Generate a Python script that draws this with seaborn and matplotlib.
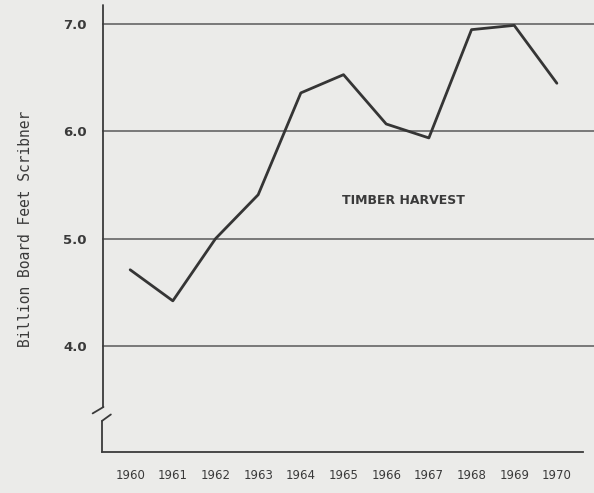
import matplotlib
matplotlib.use('Agg')
import matplotlib.pyplot as plt
import seaborn as sns
import pandas as pd

# Data (billion board feet, Scribner)
years = [1960, 1961, 1962, 1963, 1964, 1965, 1966, 1967, 1968, 1969, 1970]
harvest = [4.71, 4.42, 5.00, 5.41, 6.36, 6.53, 6.07, 5.94, 6.95, 6.99, 6.45]
y_ticks = [4.0, 5.0, 6.0, 7.0]
y_tick_labels = ['4.0', '5.0', '6.0', '7.0']

df = pd.DataFrame({'Year': years, 'Harvest': harvest})

sns.set_theme(style="white")
plt.rcParams['font.family'] = ['DejaVu Sans']

paper = '#ebebe9'
ink = '#3a3a3a'

fig = plt.figure(figsize=(5.94, 4.93), dpi=100, facecolor=paper)
ax = fig.add_axes([102 / 594, 41 / 493, 492 / 594, 447 / 493])
ax.set_facecolor(paper)

# horizontal reference lines
for yv in y_ticks:
    ax.axhline(yv, color='#5a5a5a', linewidth=1.1, zorder=1)

sns.lineplot(data=df, x='Year', y='Harvest', color='#353535',
             linewidth=2.0, ax=ax, zorder=3)

ax.set_xlim(1959.34, 1970.87)
ax.set_ylim(3.01, 7.18)

ax.set_xticks(years)
ax.set_xticklabels([str(y) for y in years], fontsize=8.5, color=ink)
ax.set_yticks(y_ticks)
ax.set_yticklabels(y_tick_labels, fontsize=9.5, color=ink, fontweight='bold')
ax.tick_params(axis='x', direction='out', length=4, width=1, color=ink, pad=8)
ax.tick_params(axis='y', direction='out', length=2, width=1, color=ink, pad=9)

ax.set_xlabel('')
ax.set_ylabel('Billion Board Feet Scribner', fontsize=10.5, color=ink,
              family='DejaVu Sans Mono', labelpad=22)

# spines: bottom axis, left axis drawn by hand with a break
for side in ['top', 'right', 'left']:
    ax.spines[side].set_visible(False)
ax.spines['bottom'].set_color(ink)
ax.spines['bottom'].set_linewidth(1.3)
ax.spines['bottom'].set_bounds(1959.34, 1970.62)

tr = ax.get_yaxis_transform()
ax.plot([0.003, 0.003], [3.43, 7.18], color=ink, lw=1.3, transform=tr,
        clip_on=False)
ax.plot([-0.019, 0.003], [3.37, 3.43], color=ink, lw=1.3, transform=tr,
        clip_on=False)
ax.plot([0.0, 0.018], [3.30, 3.36], color=ink, lw=1.3, transform=tr,
        clip_on=False)
ax.plot([0.0, 0.0], [3.01, 3.30], color=ink, lw=1.3, transform=tr,
        clip_on=False)

ax.text(1966.4, 5.36, 'TIMBER HARVEST', fontsize=9, fontweight='bold',
        color=ink, ha='center', va='center')

fig.savefig('out.png', dpi=100, facecolor=paper)
